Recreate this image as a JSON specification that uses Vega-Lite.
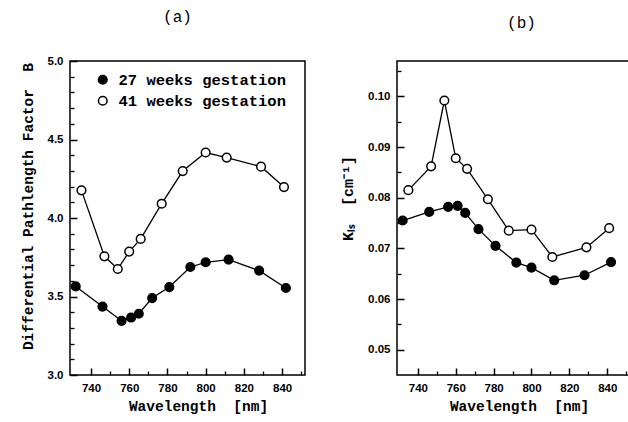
{
  "$schema": "https://vega.github.io/schema/vega-lite/v6.json",
  "background": "white",
  "padding": {"left": 19, "top": 8, "right": 0, "bottom": 0},
  "spacing": 92,
  "bounds": "flush",
  "config": {
    "view": {"stroke": "black", "strokeWidth": 1.5},
    "axis": {
      "grid": false, "domain": false, "ticks": true, "tickOpacity": 1,
      "tickColor": "black", "tickWidth": 1.4,
      "labelColor": "black", "labelFont": "Liberation Sans", "labelFontWeight": "bold", "labelFontSize": 11.5,
      "titleFont": "Liberation Mono", "titleFontWeight": "bold", "titleFontSize": 14.5, "titleColor": "black"
    },
    "title": {"font": "Liberation Mono", "fontSize": 16, "fontWeight": "normal", "color": "black", "anchor": "middle"}
  },
  "datasets": {
    "dpf": [
      {"wavelength": 732, "value": 3.564, "group": "27 weeks gestation"},
      {"wavelength": 746, "value": 3.436, "group": "27 weeks gestation"},
      {"wavelength": 756, "value": 3.345, "group": "27 weeks gestation"},
      {"wavelength": 761, "value": 3.366, "group": "27 weeks gestation"},
      {"wavelength": 765, "value": 3.390, "group": "27 weeks gestation"},
      {"wavelength": 772, "value": 3.490, "group": "27 weeks gestation"},
      {"wavelength": 781, "value": 3.560, "group": "27 weeks gestation"},
      {"wavelength": 792, "value": 3.688, "group": "27 weeks gestation"},
      {"wavelength": 800, "value": 3.718, "group": "27 weeks gestation"},
      {"wavelength": 812, "value": 3.735, "group": "27 weeks gestation"},
      {"wavelength": 828, "value": 3.665, "group": "27 weeks gestation"},
      {"wavelength": 842, "value": 3.554, "group": "27 weeks gestation"},
      {"wavelength": 735, "value": 4.176, "group": "41 weeks gestation"},
      {"wavelength": 747, "value": 3.756, "group": "41 weeks gestation"},
      {"wavelength": 754, "value": 3.675, "group": "41 weeks gestation"},
      {"wavelength": 760, "value": 3.786, "group": "41 weeks gestation"},
      {"wavelength": 766, "value": 3.867, "group": "41 weeks gestation"},
      {"wavelength": 777, "value": 4.091, "group": "41 weeks gestation"},
      {"wavelength": 788, "value": 4.299, "group": "41 weeks gestation"},
      {"wavelength": 800, "value": 4.417, "group": "41 weeks gestation"},
      {"wavelength": 811, "value": 4.385, "group": "41 weeks gestation"},
      {"wavelength": 829, "value": 4.327, "group": "41 weeks gestation"},
      {"wavelength": 841, "value": 4.197, "group": "41 weeks gestation"}
    ],
    "kls": [
      {"wavelength": 732, "value": 0.0755, "group": "27 weeks gestation"},
      {"wavelength": 746, "value": 0.0772, "group": "27 weeks gestation"},
      {"wavelength": 756, "value": 0.0782, "group": "27 weeks gestation"},
      {"wavelength": 761, "value": 0.0784, "group": "27 weeks gestation"},
      {"wavelength": 765, "value": 0.0770, "group": "27 weeks gestation"},
      {"wavelength": 772, "value": 0.0738, "group": "27 weeks gestation"},
      {"wavelength": 781, "value": 0.0705, "group": "27 weeks gestation"},
      {"wavelength": 792, "value": 0.0672, "group": "27 weeks gestation"},
      {"wavelength": 800, "value": 0.0662, "group": "27 weeks gestation"},
      {"wavelength": 812, "value": 0.0637, "group": "27 weeks gestation"},
      {"wavelength": 828, "value": 0.0647, "group": "27 weeks gestation"},
      {"wavelength": 842, "value": 0.0673, "group": "27 weeks gestation"},
      {"wavelength": 735, "value": 0.0815, "group": "41 weeks gestation"},
      {"wavelength": 747, "value": 0.0862, "group": "41 weeks gestation"},
      {"wavelength": 754, "value": 0.0992, "group": "41 weeks gestation"},
      {"wavelength": 760, "value": 0.0878, "group": "41 weeks gestation"},
      {"wavelength": 766, "value": 0.0857, "group": "41 weeks gestation"},
      {"wavelength": 777, "value": 0.0797, "group": "41 weeks gestation"},
      {"wavelength": 788, "value": 0.0735, "group": "41 weeks gestation"},
      {"wavelength": 800, "value": 0.0737, "group": "41 weeks gestation"},
      {"wavelength": 811, "value": 0.0683, "group": "41 weeks gestation"},
      {"wavelength": 829, "value": 0.0702, "group": "41 weeks gestation"},
      {"wavelength": 841, "value": 0.0740, "group": "41 weeks gestation"}
    ]
  },
  "resolve": {"legend": {"fill": "independent"}, "scale": {"x": "independent", "y": "independent"}},
  "hconcat": [
    {
      "width": 235, "height": 314,
      "title": {"text": "(a)", "offset": 30, "dx": -10},
      "data": {"name": "dpf"},
      "resolve": {"axis": {"x": "independent", "y": "independent"}},
      "layer": [
        {"mark": {"type": "line", "color": "black", "strokeWidth": 1.3},
         "encoding": {
           "x": {"field": "wavelength", "type": "quantitative",
             "scale": {"domain": [729, 852], "nice": false, "zero": false},
             "axis": {"orient": "bottom", "title": "Wavelength\u00a0\u00a0[nm]", "values": [740, 760, 780, 800, 820, 840],
               "ticks": true, "tickColor": "black", "tickWidth": 1.5, "zindex": 2,
               "offset": -7, "tickSize": 7, "labelPadding": 7, "titlePadding": 6, "titleX": 128}},
           "y": {"field": "value", "type": "quantitative",
             "scale": {"domain": [3, 5], "nice": false, "zero": false},
             "axis": {"orient": "left", "title": "Differential Pathlength Factor\u00a0\u00a0B", "format": ".1f",
               "ticks": true, "tickColor": "black", "tickWidth": 1.5, "zindex": 2,
               "values": [3.0, 3.5, 4.0, 4.5, 5.0], "offset": -7, "tickSize": 7, "labelPadding": 7, "titlePadding": 12, "titleY": 145}},
           "detail": {"field": "group"}}},
        {"mark": {"type": "circle", "size": 75, "stroke": "black", "strokeWidth": 1.5, "opacity": 1},
         "encoding": {
           "x": {"field": "wavelength", "type": "quantitative",
             "axis": {"orient": "bottom", "title": null, "labels": false, "zindex": 2,
               "ticks": true, "tickColor": "black", "tickWidth": 1.3,
               "values": [750, 770, 790, 810, 830, 850], "offset": -4, "tickSize": 4}},
           "y": {"field": "value", "type": "quantitative",
             "axis": {"orient": "left", "title": null, "labels": false, "zindex": 2,
               "ticks": true, "tickColor": "black", "tickWidth": 1.3,
               "values": [3.1, 3.2, 3.3, 3.4, 3.6, 3.7, 3.8, 3.9, 4.1, 4.2, 4.3, 4.4, 4.6, 4.7, 4.8, 4.9], "offset": -4, "tickSize": 4}},
           "fill": {"field": "group", "type": "nominal",
            "scale": {"domain": ["27 weeks gestation", "41 weeks gestation"], "range": ["black", "white"]},
            "legend": {"title": null, "orient": "none", "legendX": 25, "legendY": 11,
              "labelFont": "Liberation Mono", "labelFontWeight": "bold", "labelFontSize": 15.5, "labelColor": "black",
              "labelLimit": 400,
              "symbolType": "circle", "symbolSize": 75, "symbolStrokeColor": "black", "symbolStrokeWidth": 1.5,
              "symbolOpacity": 1, "rowPadding": 4, "labelOffset": 8}}}}
      ]
    },
    {
      "width": 233, "height": 314,
      "title": {"text": "(b)", "offset": 30, "dx": 8},
      "data": {"name": "kls"},
      "resolve": {"axis": {"x": "independent", "y": "independent"}},
      "layer": [
        {"mark": {"type": "line", "color": "black", "strokeWidth": 1.3},
         "encoding": {
           "x": {"field": "wavelength", "type": "quantitative",
             "scale": {"domain": [729, 852], "nice": false, "zero": false},
             "axis": {"orient": "bottom", "title": "Wavelength\u00a0\u00a0[nm]", "values": [740, 760, 780, 800, 820, 840],
               "ticks": true, "tickColor": "black", "tickWidth": 1.5, "zindex": 2,
               "offset": -7, "tickSize": 7, "labelPadding": 7, "titlePadding": 6, "titleX": 122}},
           "y": {"field": "value", "type": "quantitative",
             "scale": {"domain": [0.045, 0.107], "nice": false, "zero": false},
             "axis": {"orient": "left", "title": "Kₗₛ\u00a0\u00a0[cm⁻¹]", "format": ".2f", "titleFontSize": 15,
               "ticks": true, "tickColor": "black", "tickWidth": 1.5, "zindex": 2,
               "values": [0.05, 0.06, 0.07, 0.08, 0.09, 0.1], "offset": -7, "tickSize": 7, "labelPadding": 7, "titlePadding": 12, "titleY": 137}},
           "detail": {"field": "group"}}},
        {"mark": {"type": "circle", "size": 75, "stroke": "black", "strokeWidth": 1.5, "opacity": 1},
         "encoding": {
           "x": {"field": "wavelength", "type": "quantitative",
             "axis": {"orient": "bottom", "title": null, "labels": false, "zindex": 2,
               "ticks": true, "tickColor": "black", "tickWidth": 1.3,
               "values": [750, 770, 790, 810, 830, 850], "offset": -4, "tickSize": 4}},
           "y": {"field": "value", "type": "quantitative",
             "axis": {"orient": "left", "title": null, "labels": false, "zindex": 2,
               "ticks": true, "tickColor": "black", "tickWidth": 1.3,
               "values": [0.055, 0.065, 0.075, 0.085, 0.095, 0.105], "offset": -4, "tickSize": 4}},
           "fill": {"field": "group", "type": "nominal",
            "scale": {"domain": ["27 weeks gestation", "41 weeks gestation"], "range": ["black", "white"]},
            "legend": null}}}
      ]
    }
  ]
}
